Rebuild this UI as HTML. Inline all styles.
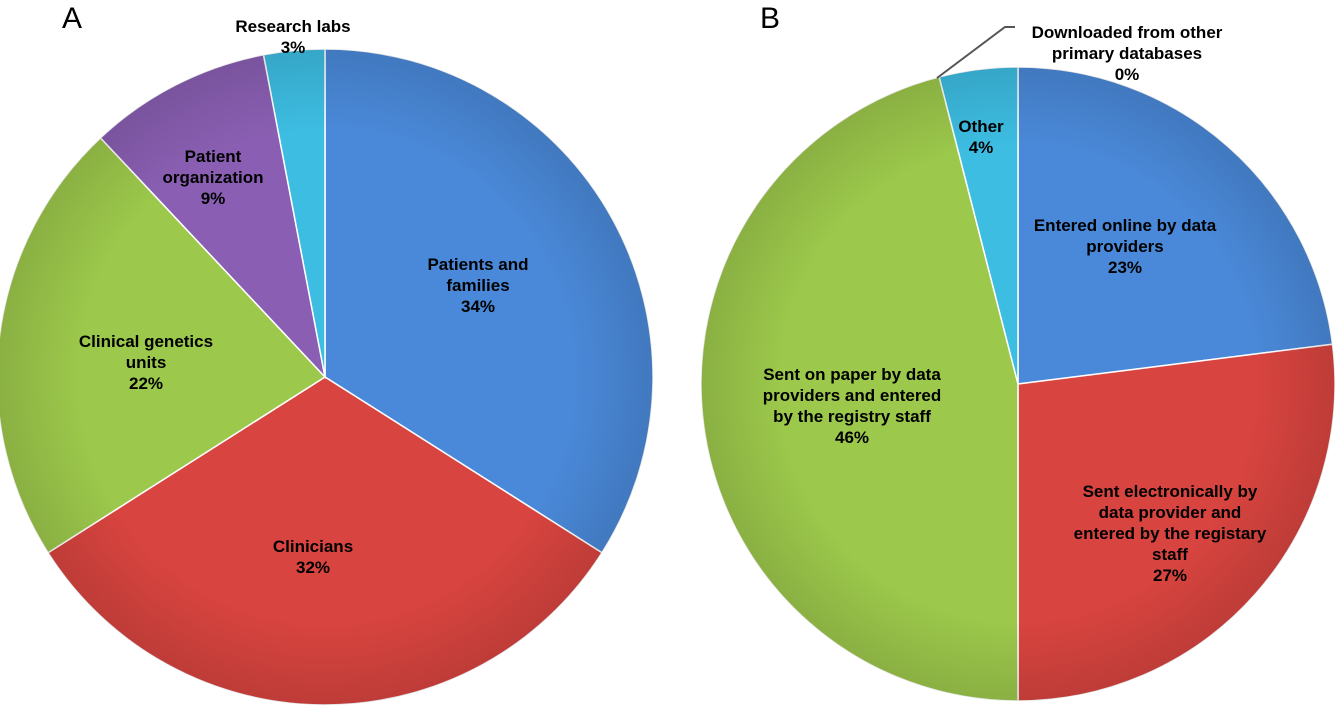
<!DOCTYPE html>
<html><head><meta charset="utf-8"><style>
body{margin:0;background:#fff;width:1339px;height:717px;overflow:hidden}
svg{display:block;font-family:"Liberation Sans",Arial,sans-serif}
.lbl{font-weight:bold;font-size:17px;fill:#000;text-anchor:middle}
</style></head><body>
<svg id="chart" width="1339" height="717" viewBox="0 0 1339 717">
<defs>
<radialGradient id="shade" cx="50%" cy="50%" r="50%"><stop offset="0.75" stop-color="#000" stop-opacity="0"/><stop offset="1" stop-color="#000" stop-opacity="0.12"/></radialGradient>
</defs>
<text x="62" y="28" font-size="30">A</text>
<text x="760" y="28" font-size="30">B</text>
<g id="pa"></g><g id="pb"></g>
<polyline points="937,78 1005,27 1015,27" fill="none" stroke="#555" stroke-width="2"/>
</svg>
<script>
const catsA=["Patients and families","Clinicians","Clinical genetics units","Patient organization","Research labs"];
const valsA=[34,32,22,9,3];
const catsB=["Entered online by data providers","Sent electronically by data provider and entered by the registary staff","Sent on paper by data providers and entered by the registry staff","Downloaded from other primary databases","Other"];
const valsB=[23,27,46,0,4];
const colsA=["#4a89d9","#d8443f","#9cc84b","#8a5fb3","#3dbde2"];
const colsB=["#4a89d9","#d8443f","#9cc84b","#9cc84b","#3dbde2"];
const NS="http://www.w3.org/2000/svg";
function pt(cx,cy,r,a){return [cx+r*Math.sin(a),cy-r*Math.cos(a)];}
function drawPie(g,cx,cy,r,cats,vals,cols,labels,prefix){
  const tot=vals.reduce((a,b)=>a+b,0);let acc=0;
  vals.forEach((v,i)=>{
    const a0=acc/tot*2*Math.PI;acc+=v;const a1=acc/tot*2*Math.PI;
    if(v>0){
      const p0=pt(cx,cy,r,a0),p1=pt(cx,cy,r,a1);
      const p=document.createElementNS(NS,"path");
      p.setAttribute("d",`M${cx},${cy}L${p0[0]},${p0[1]}A${r},${r} 0 ${a1-a0>Math.PI?1:0} 1 ${p1[0]},${p1[1]}Z`);
      p.setAttribute("fill",cols[i]);p.setAttribute("stroke","#fff");p.setAttribute("stroke-width","1.5");
      
      
      g.appendChild(p);
    }
  });
  const c=document.createElementNS(NS,"circle");
  c.setAttribute("cx",cx);c.setAttribute("cy",cy);c.setAttribute("r",r);c.setAttribute("fill","url(#shade)");
  
  
  g.appendChild(c);
  labels.forEach((L,i)=>{
    const t=document.createElementNS(NS,"text");t.setAttribute("class","lbl");
    t.setAttribute("x",L.x);t.setAttribute("y",L.y);
    
    
    L.lines.concat([vals[i]+"%"]).forEach((s,k)=>{
      const ts=document.createElementNS(NS,"tspan");ts.setAttribute("x",L.x);ts.setAttribute("dy",k?"21":"0");ts.textContent=s;t.appendChild(ts);});
    g.appendChild(t);
  });
}
drawPie(document.getElementById("pa"),325,377,328,catsA,valsA,colsA,[
 {x:478,y:270,lines:["Patients and","families"]},
 {x:313,y:552,lines:["Clinicians"]},
 {x:146,y:347,lines:["Clinical genetics","units"]},
 {x:213,y:162,lines:["Patient","organization"]},
 {x:293,y:32,lines:["Research labs"]}],"pie-a");
drawPie(document.getElementById("pb"),1018,384,317,catsB,valsB,colsB,[
 {x:1125,y:231,lines:["Entered online by data","providers"]},
 {x:1170,y:497,lines:["Sent electronically by","data provider and","entered by the registary","staff"]},
 {x:852,y:380,lines:["Sent on paper by data","providers and entered","by the registry staff"]},
 {x:1127,y:38,lines:["Downloaded from other","primary databases"]},
 {x:981,y:132,lines:["Other"]}],"pie-b");
</script>
</body></html>
